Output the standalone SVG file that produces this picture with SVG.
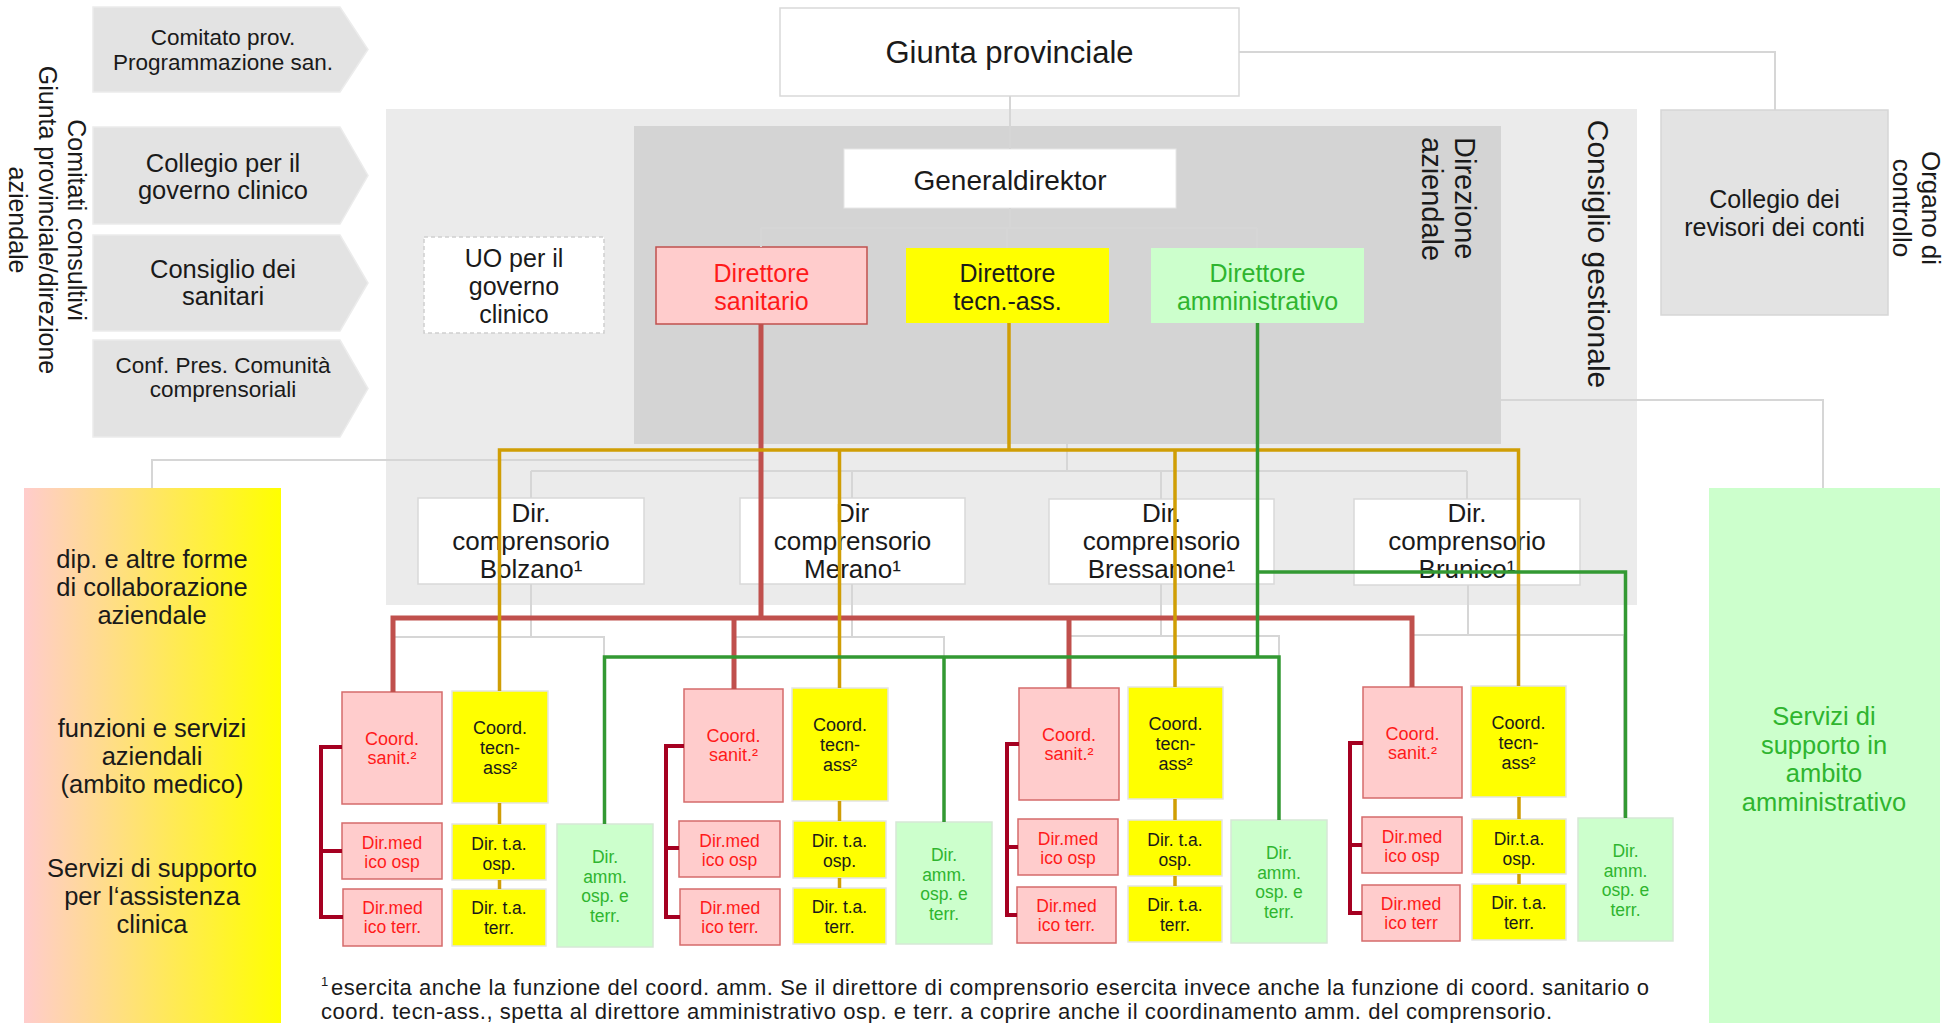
<svg xmlns="http://www.w3.org/2000/svg" width="1946" height="1023" viewBox="0 0 1946 1023">
<defs>
<linearGradient id="gradLeft" x1="0" y1="0" x2="1" y2="0">
<stop offset="0" stop-color="#ffcccc"/>
<stop offset="1" stop-color="#ffff00"/>
</linearGradient>
<style>
text{font-family:"Liberation Sans",Arial,sans-serif;fill:#1a1a1a}
.c{text-anchor:middle}
.red{fill:#ff1a1a}
.grn{fill:#2fb52f}
.chev{fill:#e3e3e3;stroke:#ececec;stroke-width:1.5}
.wbox{fill:#ffffff;stroke:#d9d9d9;stroke-width:1.5}
.pink{fill:#ffcccc;stroke:#d56b6b;stroke-width:1.5}
.yel{fill:#ffff00;stroke:#e4e4e4;stroke-width:1.5}
.lg{fill:#ccffcc;stroke:#d6e8d6;stroke-width:1.5}
.gray{fill:none;stroke:#d6d6d6;stroke-width:2}
.lred{fill:none;stroke:#c0504d;stroke-width:5}
.lora{fill:none;stroke:#d09e05;stroke-width:3.5}
.lgrn{fill:none;stroke:#339933;stroke-width:3.5}
.ldr{fill:none;stroke:#a50021;stroke-width:4}
.s17{font-size:17.5px}
</style>
</defs>
<rect width="1946" height="1023" fill="#ffffff"/>

<!-- panels -->
<g id="consiglio-gestionale">
<rect x="386" y="109" width="1251" height="496" fill="#ebebeb"/>
<text transform="translate(1588,254) rotate(90)" class="c" font-size="30">Consiglio gestionale</text>
</g>
<g id="direzione-aziendale">
<rect x="634" y="126" width="867" height="318" fill="#d4d4d4"/>
<text transform="translate(1455,137) rotate(90)" font-size="29"><tspan x="0" y="0">Direzione</tspan><tspan x="0" y="33">aziendale</tspan></text>
</g>

<!-- left vertical label -->
<g id="label-comitati">
<text transform="translate(68,220) rotate(90)" class="c" font-size="25"><tspan x="0" y="0">Comitati consultivi</tspan><tspan x="0" y="29.5">Giunta provinciale/direzione</tspan><tspan x="0" y="59">aziendale</tspan></text>
</g>

<!-- chevrons -->
<g id="comitato-prov">
<path class="chev" d="M93,7 H340 L368,49.5 L340,92 H93 Z"/>
<text class="c" font-size="22.5" x="223" y="45">Comitato prov.</text>
<text class="c" font-size="22.5" x="223" y="70">Programmazione san.</text>
</g>
<g id="collegio-governo">
<path class="chev" d="M93,127 H340 L368,175.5 L340,224 H93 Z"/>
<text class="c" font-size="25.5" x="223" y="172">Collegio per il</text>
<text class="c" font-size="25.5" x="223" y="199">governo clinico</text>
</g>
<g id="consiglio-sanitari">
<path class="chev" d="M93,235 H340 L368,283 L340,331 H93 Z"/>
<text class="c" font-size="25.5" x="223" y="278">Consiglio dei</text>
<text class="c" font-size="25.5" x="223" y="305">sanitari</text>
</g>
<g id="conf-pres">
<path class="chev" d="M93,340 H340 L368,388.5 L340,437 H93 Z"/>
<text class="c" font-size="22.5" x="223" y="373">Conf. Pres. Comunità</text>
<text class="c" font-size="22.5" x="223" y="397">comprensoriali</text>
</g>

<!-- top nodes -->
<g id="giunta">
<rect class="wbox" x="780" y="8" width="459" height="88"/>
<text class="c" font-size="31" x="1009.5" y="63">Giunta provinciale</text>
</g>
<g id="generaldirektor">
<rect x="844" y="149" width="332" height="59" fill="#ffffff" stroke="#e6e6e6" stroke-width="1"/>
<text class="c" font-size="28" x="1010" y="190">Generaldirektor</text>
</g>
<g id="uo-governo">
<rect x="424" y="237" width="180" height="96" fill="#ffffff" stroke="#cfcfcf" stroke-width="1.5" stroke-dasharray="4 3"/>
<text class="c" font-size="25" x="514" y="267">UO per il</text>
<text class="c" font-size="25" x="514" y="295">governo</text>
<text class="c" font-size="25" x="514" y="323">clinico</text>
</g>
<g id="dir-sanitario">
<rect x="656" y="247" width="211" height="77" fill="#ffcccc" stroke="#c0504d" stroke-width="1.5"/>
<text class="c red" font-size="25" x="761.5" y="282">Direttore</text>
<text class="c red" font-size="25" x="761.5" y="310">sanitario</text>
</g>
<g id="dir-tecn">
<rect x="906" y="248" width="203" height="75" fill="#ffff00"/>
<text class="c" font-size="25" x="1007.5" y="282">Direttore</text>
<text class="c" font-size="25" x="1007.5" y="310">tecn.-ass.</text>
</g>
<g id="dir-amm">
<rect x="1151" y="248" width="213" height="75" fill="#ccffcc"/>
<text class="c grn" font-size="25" x="1257.5" y="282">Direttore</text>
<text class="c grn" font-size="25" x="1257.5" y="310">amministrativo</text>
</g>
<g id="collegio-revisori">
<rect x="1661" y="110" width="227" height="205" fill="#e3e3e3" stroke="#d6d6d6" stroke-width="1.5"/>
<text class="c" font-size="25" x="1774.5" y="208">Collegio dei</text>
<text class="c" font-size="25" x="1774.5" y="236">revisori dei conti</text>
</g>
<g id="label-organo">
<text transform="translate(1922,208) rotate(90)" class="c" font-size="26"><tspan x="0" y="0">Organo di</tspan><tspan x="0" y="29">controllo</tspan></text>
</g>

<!-- side boxes -->
<g id="aziendali-left">
<rect x="24" y="488" width="257" height="535" fill="url(#gradLeft)"/>
<text class="c" font-size="25.5" x="152" y="568">dip. e altre forme</text>
<text class="c" font-size="25.5" x="152" y="596">di collaborazione</text>
<text class="c" font-size="25.5" x="152" y="624">aziendale</text>
<text class="c" font-size="25.5" x="152" y="737">funzioni e servizi</text>
<text class="c" font-size="25.5" x="152" y="765">aziendali</text>
<text class="c" font-size="25.5" x="152" y="793">(ambito medico)</text>
<text class="c" font-size="25.5" x="152" y="877">Servizi di supporto</text>
<text class="c" font-size="25.5" x="152" y="905">per l‘assistenza</text>
<text class="c" font-size="25.5" x="152" y="933">clinica</text>
</g>
<g id="servizi-amm-right">
<rect x="1709" y="488" width="231" height="535" fill="#ccffcc"/>
<text class="c grn" font-size="25.5" x="1824" y="725">Servizi di</text>
<text class="c grn" font-size="25.5" x="1824" y="754">supporto in</text>
<text class="c grn" font-size="25.5" x="1824" y="782">ambito</text>
<text class="c grn" font-size="25.5" x="1824" y="811">amministrativo</text>
</g>

<!-- comprensorio directors -->
<g id="comp-bolzano">
<rect class="wbox" x="418" y="498" width="226" height="86"/>
<text class="c" font-size="26" x="531" y="522">Dir.</text>
<text class="c" font-size="26" x="531" y="550">comprensorio</text>
<text class="c" font-size="26" x="531" y="578">Bolzano¹</text>
</g>
<g id="comp-merano">
<rect class="wbox" x="740" y="498" width="225" height="86"/>
<text class="c" font-size="26" x="852.5" y="522">Dir</text>
<text class="c" font-size="26" x="852.5" y="550">comprensorio</text>
<text class="c" font-size="26" x="852.5" y="578">Merano¹</text>
</g>
<g id="comp-bressanone">
<rect class="wbox" x="1049" y="499" width="225" height="85"/>
<text class="c" font-size="26" x="1161.5" y="522">Dir.</text>
<text class="c" font-size="26" x="1161.5" y="550">comprensorio</text>
<text class="c" font-size="26" x="1161.5" y="578">Bressanone¹</text>
</g>
<g id="comp-brunico">
<rect class="wbox" x="1354" y="499" width="226" height="86"/>
<text class="c" font-size="26" x="1467" y="522">Dir.</text>
<text class="c" font-size="26" x="1467" y="550">comprensorio</text>
<text class="c" font-size="26" x="1467" y="578">Brunico¹</text>
</g>

<!-- Bolzano units -->
<g id="bz-coord-sanit"><rect class="pink" x="342" y="692" width="100" height="112"/>
<text class="c red" font-size="18" x="392" y="745">Coord.</text><text class="c red" font-size="18" x="392" y="764">sanit.²</text></g>
<g id="bz-coord-tecn"><rect class="yel" x="452" y="691" width="96" height="112"/>
<text class="c" font-size="18" x="500" y="734">Coord.</text><text class="c" font-size="18" x="500" y="754">tecn-</text><text class="c" font-size="18" x="500" y="774">ass²</text></g>
<g id="bz-dirmed-osp"><rect class="pink" x="342" y="823" width="100" height="56"/>
<text class="c red s17" x="392" y="849">Dir.med</text><text class="c red s17" x="392" y="868">ico osp</text></g>
<g id="bz-dirmed-terr"><rect class="pink" x="343" y="889" width="99" height="57"/>
<text class="c red s17" x="392.5" y="914">Dir.med</text><text class="c red s17" x="392.5" y="933">ico terr.</text></g>
<g id="bz-dirta-osp"><rect class="yel" x="452" y="824" width="94" height="56"/>
<text class="c s17" x="499" y="850">Dir. t.a.</text><text class="c s17" x="499" y="870">osp.</text></g>
<g id="bz-dirta-terr"><rect class="yel" x="452" y="889" width="94" height="57"/>
<text class="c s17" x="499" y="914">Dir. t.a.</text><text class="c s17" x="499" y="934">terr.</text></g>
<g id="bz-diramm"><rect class="lg" x="557" y="824" width="96" height="123"/>
<text class="c grn s17" x="605" y="863">Dir.</text><text class="c grn s17" x="605" y="882.5">amm.</text><text class="c grn s17" x="605" y="902">osp. e</text><text class="c grn s17" x="605" y="921.5">terr.</text></g>

<!-- Merano units -->
<g id="me-coord-sanit"><rect class="pink" x="684" y="689" width="99" height="113"/>
<text class="c red" font-size="18" x="733.5" y="742">Coord.</text><text class="c red" font-size="18" x="733.5" y="761">sanit.²</text></g>
<g id="me-coord-tecn"><rect class="yel" x="792" y="688" width="96" height="113"/>
<text class="c" font-size="18" x="840" y="731">Coord.</text><text class="c" font-size="18" x="840" y="751">tecn-</text><text class="c" font-size="18" x="840" y="771">ass²</text></g>
<g id="me-dirmed-osp"><rect class="pink" x="679" y="821" width="101" height="56"/>
<text class="c red s17" x="729.5" y="847">Dir.med</text><text class="c red s17" x="729.5" y="866">ico osp</text></g>
<g id="me-dirmed-terr"><rect class="pink" x="680" y="889" width="100" height="56"/>
<text class="c red s17" x="730" y="914">Dir.med</text><text class="c red s17" x="730" y="933">ico terr.</text></g>
<g id="me-dirta-osp"><rect class="yel" x="793" y="821" width="93" height="57"/>
<text class="c s17" x="839.5" y="847">Dir. t.a.</text><text class="c s17" x="839.5" y="867">osp.</text></g>
<g id="me-dirta-terr"><rect class="yel" x="793" y="888" width="93" height="56"/>
<text class="c s17" x="839.5" y="913">Dir. t.a.</text><text class="c s17" x="839.5" y="933">terr.</text></g>
<g id="me-diramm"><rect class="lg" x="896" y="822" width="96" height="122"/>
<text class="c grn s17" x="944" y="861">Dir.</text><text class="c grn s17" x="944" y="880.5">amm.</text><text class="c grn s17" x="944" y="900">osp. e</text><text class="c grn s17" x="944" y="919.5">terr.</text></g>

<!-- Bressanone units -->
<g id="br-coord-sanit"><rect class="pink" x="1019" y="688" width="100" height="112"/>
<text class="c red" font-size="18" x="1069" y="741">Coord.</text><text class="c red" font-size="18" x="1069" y="760">sanit.²</text></g>
<g id="br-coord-tecn"><rect class="yel" x="1128" y="687" width="95" height="112"/>
<text class="c" font-size="18" x="1175.5" y="730">Coord.</text><text class="c" font-size="18" x="1175.5" y="750">tecn-</text><text class="c" font-size="18" x="1175.5" y="770">ass²</text></g>
<g id="br-dirmed-osp"><rect class="pink" x="1018" y="819" width="100" height="56"/>
<text class="c red s17" x="1068" y="845">Dir.med</text><text class="c red s17" x="1068" y="864">ico osp</text></g>
<g id="br-dirmed-terr"><rect class="pink" x="1017" y="887" width="99" height="56"/>
<text class="c red s17" x="1066.5" y="912">Dir.med</text><text class="c red s17" x="1066.5" y="931">ico terr.</text></g>
<g id="br-dirta-osp"><rect class="yel" x="1128" y="820" width="94" height="56"/>
<text class="c s17" x="1175" y="846">Dir. t.a.</text><text class="c s17" x="1175" y="866">osp.</text></g>
<g id="br-dirta-terr"><rect class="yel" x="1128" y="886" width="94" height="56"/>
<text class="c s17" x="1175" y="911">Dir. t.a.</text><text class="c s17" x="1175" y="931">terr.</text></g>
<g id="br-diramm"><rect class="lg" x="1231" y="820" width="96" height="123"/>
<text class="c grn s17" x="1279" y="859">Dir.</text><text class="c grn s17" x="1279" y="878.5">amm.</text><text class="c grn s17" x="1279" y="898">osp. e</text><text class="c grn s17" x="1279" y="917.5">terr.</text></g>

<!-- Brunico units -->
<g id="bu-coord-sanit"><rect class="pink" x="1363" y="687" width="99" height="111"/>
<text class="c red" font-size="18" x="1412.5" y="740">Coord.</text><text class="c red" font-size="18" x="1412.5" y="759">sanit.²</text></g>
<g id="bu-coord-tecn"><rect class="yel" x="1471" y="686" width="95" height="111"/>
<text class="c" font-size="18" x="1518.5" y="729">Coord.</text><text class="c" font-size="18" x="1518.5" y="749">tecn-</text><text class="c" font-size="18" x="1518.5" y="769">ass²</text></g>
<g id="bu-dirmed-osp"><rect class="pink" x="1362" y="817" width="100" height="56"/>
<text class="c red s17" x="1412" y="843">Dir.med</text><text class="c red s17" x="1412" y="862">ico osp</text></g>
<g id="bu-dirmed-terr"><rect class="pink" x="1362" y="885" width="98" height="56"/>
<text class="c red s17" x="1411" y="910">Dir.med</text><text class="c red s17" x="1411" y="929">ico terr</text></g>
<g id="bu-dirta-osp"><rect class="yel" x="1472" y="819" width="94" height="55"/>
<text class="c s17" x="1519" y="845">Dir.t.a.</text><text class="c s17" x="1519" y="865">osp.</text></g>
<g id="bu-dirta-terr"><rect class="yel" x="1472" y="884" width="94" height="56"/>
<text class="c s17" x="1519" y="909">Dir. t.a.</text><text class="c s17" x="1519" y="929">terr.</text></g>
<g id="bu-diramm"><rect class="lg" x="1578" y="818" width="95" height="123"/>
<text class="c grn s17" x="1625.5" y="857">Dir.</text><text class="c grn s17" x="1625.5" y="876.5">amm.</text><text class="c grn s17" x="1625.5" y="896">osp. e</text><text class="c grn s17" x="1625.5" y="915.5">terr.</text></g>

<!-- connectors -->
<g id="connectors">
<g id="gray-links">
<path class="gray" d="M1010,96 V149"/>
<path class="gray" d="M1010,208 V228 M761,228 H1257 M761,228 V247 M1007,228 V248 M1257,228 V248" stroke="#dadada" stroke-width="1.5"/>
<path class="gray" d="M1239,52 H1775 V110"/>
<path class="gray" d="M1501,400 H1823 V488"/>
<path class="gray" d="M761,460 H152 V488"/>
<path class="gray" d="M1067,444 V471 M531,471 H1467 M531,471 V498 M852,471 V498 M1161,471 V499 M1467,471 V499"/>
<path class="gray" d="M531,584 V637 M394,637 H604 V657"/>
<path class="gray" d="M852,584 V637 M736,637 H944 V657"/>
<path class="gray" d="M1161,584 V636 M1070,636 H1279 V657"/>
<path class="gray" d="M1468,585 V635 M1412,635 H1624 V818"/>
</g>
<g id="red-links">
<path class="lred" d="M761,324 V618"/>
<path class="lred" d="M393,692 V618 H1412 V687 M734,618 V689 M1069,618 V688"/>
</g>
<g id="orange-links">
<path class="lora" d="M1009,323 V450"/>
<path class="lora" d="M499.5,691 V450 H1518.5 V686 M839.5,450 V688 M1175,450 V687"/>
<path class="lora" d="M499.5,803 V824 M499.5,880 V889 M839.5,801 V821 M839.5,878 V888 M1175,799 V820 M1175,876 V886 M1519,797 V819 M1519,874 V884"/>
</g>
<g id="green-links">
<path class="lgrn" d="M1257.5,323 V657"/>
<path class="lgrn" d="M604.5,824 V657 H1279 V820 M944,657 V822"/>
<path class="lgrn" d="M1257.5,572 H1625.5 V818"/>
</g>
<g id="darkred-brackets">
<path class="ldr" d="M342,747 H321 V917 H343 M321,851 H342"/>
<path class="ldr" d="M684,746 H666 V917 H680 M666,848 H679"/>
<path class="ldr" d="M1019,744 H1007 V915 H1017 M1007,847 H1018"/>
<path class="ldr" d="M1363,743 H1350 V913 H1362 M1350,845 H1362"/>
</g>
</g>

<!-- footnote -->
<g id="footnote">
<text font-size="13" x="321" y="986">1</text>
<text font-size="22" x="331" y="995" textLength="1318" lengthAdjust="spacing">esercita anche la funzione del coord. amm. Se il direttore di comprensorio esercita invece anche la funzione di coord. sanitario o</text>
<text font-size="22" x="321" y="1019" textLength="1231" lengthAdjust="spacing">coord. tecn-ass., spetta al direttore amministrativo osp. e terr. a coprire anche il coordinamento amm. del comprensorio.</text>
</g>
</svg>
